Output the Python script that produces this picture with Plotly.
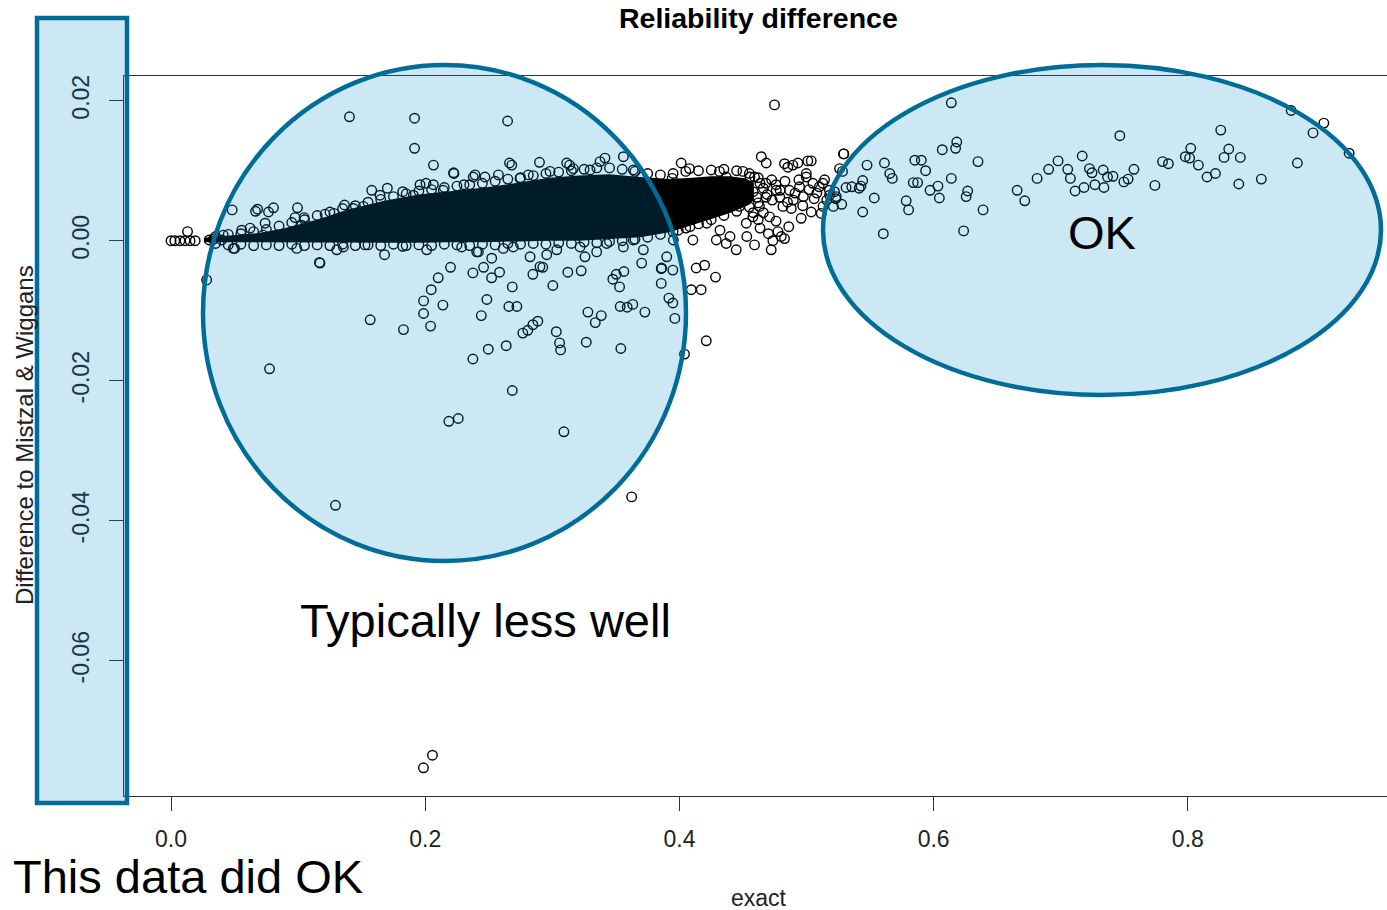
import plotly.graph_objects as go

# ---------------- data ----------------
# dense central band: envelope of the overlapping points
band_exact = [0.026, 0.046, 0.070, 0.090, 0.117, 0.140, 0.168, 0.195, 0.219, 0.247,
              0.274, 0.298, 0.321, 0.345, 0.369, 0.392, 0.410, 0.425, 0.440, 0.452, 0.458]
band_upper = [0.0003, 0.0006, 0.0010, 0.0017, 0.0030, 0.0044, 0.0056, 0.0065, 0.0070, 0.0075,
              0.0082, 0.0089, 0.0092, 0.0094, 0.0090, 0.0087, 0.0089, 0.0091, 0.0091, 0.0088, 0.0082]
band_lower = [-0.0001, -0.0002, -0.0002, -0.0002, -0.0002, -0.0002, -0.0002, -0.0002, -0.0001, -0.0001,
              0.0000, 0.0001, 0.0001, 0.0003, 0.0006, 0.0013, 0.0023, 0.0032, 0.0041, 0.0050, 0.0058]

start_exact = [0.000, 0.003, 0.007, 0.011, 0.013, 0.015, 0.019, 0.030]
start_diff = [0.0000, 0.0000, 0.0000, 0.0000, 0.0013, 0.0000, 0.0000, 0.0001]

edge_top_exact = [0.035, 0.045, 0.055, 0.065, 0.075, 0.085, 0.095, 0.105, 0.115, 0.125,
                  0.135, 0.145, 0.155, 0.165, 0.175, 0.185, 0.195, 0.205, 0.215, 0.225,
                  0.235, 0.245, 0.255, 0.265, 0.275, 0.285, 0.295, 0.305, 0.315, 0.325,
                  0.335, 0.345, 0.355, 0.365, 0.375, 0.385, 0.395, 0.405, 0.415, 0.425,
                  0.435, 0.445, 0.455, 0.462, 0.468]
edge_top_diff = [0.0006, 0.0009, 0.0010, 0.0013, 0.0016, 0.0021, 0.0026, 0.0030, 0.0036, 0.0041,
                 0.0046, 0.0050, 0.0055, 0.0059, 0.0063, 0.0067, 0.0071, 0.0073, 0.0076, 0.0078,
                 0.0080, 0.0082, 0.0085, 0.0088, 0.0090, 0.0093, 0.0096, 0.0098, 0.0100, 0.0102,
                 0.0104, 0.0104, 0.0102, 0.0099, 0.0096, 0.0094, 0.0096, 0.0099, 0.0100, 0.0101,
                 0.0102, 0.0100, 0.0096, 0.0090, 0.0082]

edge_bot_exact = [0.035, 0.045, 0.055, 0.065, 0.075, 0.085, 0.095, 0.105, 0.115, 0.125,
                  0.135, 0.145, 0.155, 0.165, 0.175, 0.185, 0.195, 0.205, 0.215, 0.225,
                  0.235, 0.245, 0.255, 0.265, 0.275, 0.285, 0.295, 0.305, 0.315, 0.325,
                  0.335, 0.345, 0.355, 0.365, 0.375, 0.385, 0.395, 0.405, 0.415, 0.425,
                  0.435, 0.445, 0.455, 0.462, 0.468]
edge_bot_diff = [-0.0004, -0.0006, -0.0005, -0.0007, -0.0006, -0.0007, -0.0005, -0.0007, -0.0006, -0.0007,
                 -0.0005, -0.0007, -0.0006, -0.0007, -0.0005, -0.0007, -0.0006, -0.0007, -0.0005, -0.0006,
                 -0.0007, -0.0005, -0.0006, -0.0004, -0.0005, -0.0004, -0.0005, -0.0003, -0.0004, -0.0002,
                 -0.0003, -0.0001, 0.0000, 0.0002, 0.0005, 0.0009, 0.0013, 0.0018, 0.0024, 0.0030,
                 0.0036, 0.0042, 0.0048, 0.0054, 0.0062]

upper_exact = [0.0333, 0.0399, 0.0411, 0.0481, 0.0556, 0.0622, 0.0665, 0.0681, 0.0726, 0.0740,
               0.0767, 0.0806, 0.0976, 0.0995, 0.1028, 0.1047, 0.1212, 0.1282, 0.1365, 0.1434,
               0.1513, 0.1579, 0.1644, 0.1702, 0.1823, 0.1907, 0.1959, 0.2006, 0.2064, 0.2142,
               0.2226, 0.2305, 0.2378, 0.2392, 0.2470, 0.2576, 0.2681, 0.2746, 0.2811, 0.2899,
               0.2982, 0.3113, 0.3136, 0.3165, 0.3297, 0.3375, 0.3414, 0.3559, 0.3637, 0.3703,
               0.3943, 0.4014, 0.4079, 0.4315, 0.4368, 0.4499, 0.4591, 0.4644, 0.4683, 0.4748,
               0.4827, 0.4853, 0.4892, 0.4932, 0.4998, 0.5010, 0.5037, 0.5050, 0.5128, 0.5142,
               0.5181, 0.5260, 0.5294,
               0.1404, 0.1916, 0.2648, 0.1916, 0.2065, 0.2663, 0.2223]
upper_diff = [0.0002, 0.0001, 0.0008, 0.0044, 0.0015, 0.0018, 0.0042, 0.0045, 0.0008, 0.0025,
              0.0041, 0.0047, 0.0033, 0.0047, 0.0022, 0.0033, 0.0038, 0.0039, 0.0051, 0.0046,
              0.0049, 0.0072, 0.0065, 0.0075, 0.0070, 0.0065, 0.0080, 0.0082, 0.0080, 0.0072,
              0.0096, 0.0080, 0.0091, 0.0094, 0.0091, 0.0094, 0.0108, 0.0089, 0.0094, 0.0112,
              0.0099, 0.0111, 0.0108, 0.0103, 0.0101, 0.0113, 0.0118, 0.0120, 0.0101, 0.0091,
              0.0089, 0.0111, 0.0103, 0.0099, 0.0091, 0.0099, 0.0091, 0.0120, 0.0111, 0.0194,
              0.0110, 0.0105, 0.0108, 0.0111, 0.0096, 0.0114, 0.0114, 0.0082, 0.0082, 0.0087,
              0.0065, 0.0103, 0.0124,
              0.0177, 0.0175, 0.0171, 0.0132, 0.0108, 0.0111, 0.0097]

lower_exact = [0.0490, 0.0500, 0.0989, 0.1172, 0.1304, 0.1356, 0.1526, 0.1680, 0.1823, 0.2012,
               0.2287, 0.2405, 0.2418, 0.2523, 0.2614, 0.2693, 0.2825, 0.2903, 0.2956, 0.3035,
               0.3218, 0.3257, 0.3349, 0.3428, 0.3559, 0.3637, 0.3716, 0.3703, 0.3860, 0.3900,
               0.3952, 0.3991, 0.4083, 0.4106, 0.4215, 0.4290, 0.4319, 0.4368, 0.4398, 0.4447,
               0.4530, 0.4591, 0.4634, 0.4722, 0.4735, 0.4775, 0.4801, 0.4827]
lower_diff = [-0.0011, -0.0011, -0.0011, -0.0032, -0.0013, -0.0009, -0.0006, -0.0020, -0.0008, -0.0013,
              -0.0009, -0.0016, -0.0016, -0.0025, -0.0011, -0.0009, -0.0023, -0.0037, -0.0020, -0.0013,
              -0.0009, -0.0023, -0.0016, -0.0004, -0.0009, 0.0001, -0.0013, -0.0032, -0.0039, -0.0023,
              0.0001, 0.0015, 0.0020, 0.0001, 0.0025, 0.0001, 0.0015, -0.0004, 0.0006, -0.0013,
              0.0006, -0.0006, 0.0018, -0.0013, 0.0000, 0.0013, 0.0006, 0.0003]

tail_exact = [0.4473, 0.4526, 0.4526, 0.4578, 0.4630, 0.4709, 0.4814, 0.4762, 0.4866, 0.4945,
              0.4998, 0.4880, 0.4958, 0.5037, 0.5116, 0.4555, 0.4634, 0.4726, 0.4792, 0.4896,
              0.4975, 0.5081, 0.5159, 0.5211,
              0.458, 0.461, 0.466, 0.469, 0.473, 0.476, 0.479, 0.483, 0.485, 0.491,
              0.494, 0.497, 0.502, 0.506, 0.510, 0.513, 0.518, 0.523, 0.466, 0.476,
              0.486, 0.470, 0.458, 0.462]
tail_diff = [0.0049, 0.0058, 0.0025, 0.0034, 0.0049, 0.0034, 0.0049, 0.0072, 0.0072, 0.0077,
             0.0091, 0.0046, 0.0032, 0.0041, 0.0039, 0.0091, 0.0082, 0.0087, 0.0072, 0.0058,
             0.0063, 0.0068, 0.0058, 0.0049,
             0.0070, 0.0062, 0.0075, 0.0066, 0.0058, 0.0080, 0.0062, 0.0085, 0.0055, 0.0068,
             0.0087, 0.0050, 0.0073, 0.0060, 0.0077, 0.0049, 0.0072, 0.0060, 0.0040, 0.0028,
             0.0020, 0.0010, 0.0040, 0.0030]

outlier_exact = [0.0280, 0.0775, 0.1294, 0.1168, 0.1567, 0.1829, 0.1987, 0.2042, 0.1987, 0.2047,
                 0.2102, 0.2199, 0.2139, 0.2375, 0.2459, 0.2522, 0.2585, 0.2485, 0.2441, 0.2375,
                 0.2496, 0.2637, 0.2685, 0.2658, 0.2721, 0.2685, 0.2186, 0.2260, 0.2847, 0.2925,
                 0.3004, 0.3122, 0.3227, 0.2886, 0.2847, 0.2807, 0.2768, 0.3031, 0.3057, 0.3065,
                 0.3091, 0.3280, 0.3338, 0.3385, 0.3267, 0.3476, 0.3503, 0.3563, 0.3529, 0.3534,
                 0.3589, 0.3633, 0.3728, 0.3539, 0.3857, 0.3857, 0.3917, 0.3948, 0.3964, 0.3948,
                 0.4040, 0.4211, 0.4093, 0.4171, 0.4132, 0.4198, 0.4284, 0.3624, 0.1986, 0.2057]
outlier_diff = [-0.0056, -0.0183, -0.0378, -0.0031, -0.0113, -0.0127, -0.0104, -0.0122, -0.0086, -0.0070,
                -0.0053, -0.0038, -0.0092, -0.0046, -0.0038, -0.0053, -0.0045, -0.0084, -0.0107, -0.0169,
                -0.0155, -0.0150, -0.0066, -0.0094, -0.0094, -0.0214, -0.0258, -0.0254, -0.0048, -0.0038,
                -0.0064, -0.0045, -0.0043, -0.0115, -0.0120, -0.0128, -0.0132, -0.0130, -0.0146, -0.0156,
                -0.0273, -0.0102, -0.0117, -0.0107, -0.0145, -0.0055, -0.0048, -0.0044, -0.0066, -0.0094,
                -0.0095, -0.0091, -0.0102, -0.0154, -0.0040, -0.0061, -0.0082, -0.0089, -0.0111, -0.0042,
                -0.0162, -0.0143, -0.0070, -0.0070, -0.0039, -0.0035, -0.0052, -0.0366, -0.0753, -0.0735]

high_exact = [0.6139, 0.6182, 0.6173, 0.6068, 0.6349, 0.6139, 0.6268, 0.6256, 0.6389, 0.6236,
              0.5937, 0.5852, 0.5903, 0.5840, 0.5874, 0.6034, 0.5972, 0.6045, 0.5784, 0.5803,
              0.5613, 0.5655, 0.5675, 0.5533, 0.5604, 0.5442, 0.5476, 0.5442, 0.5414, 0.5428,
              0.5356, 0.5311, 0.5277, 0.5234, 0.5220, 0.5291, 0.5283, 0.6657, 0.6717, 0.6814,
              0.6905, 0.6979, 0.7055, 0.7076, 0.7113, 0.7183, 0.7169, 0.7226, 0.7246, 0.7269,
              0.7340, 0.7334, 0.7368, 0.7411, 0.7465, 0.7497, 0.7530, 0.7576, 0.7741, 0.7801,
              0.7847, 0.7980, 0.8014, 0.8023, 0.8083, 0.8151, 0.8217, 0.8259, 0.8322, 0.8285,
              0.8413, 0.8401, 0.8578, 0.8813, 0.8862, 0.8985, 0.9070, 0.9269]
high_diff = [0.0197, 0.0141, 0.0132, 0.0130, 0.0113, 0.0089, 0.0071, 0.0063, 0.0044, 0.0014,
             0.0100, 0.0115, 0.0115, 0.0083, 0.0083, 0.0078, 0.0072, 0.0061, 0.0057, 0.0044,
             0.0111, 0.0096, 0.0089, 0.0061, 0.0010, 0.0041, 0.0108, 0.0086, 0.0075, 0.0078,
             0.0077, 0.0076, 0.0052, 0.0063, 0.0070, 0.0124, 0.0099, 0.0072, 0.0057, 0.0089,
             0.0102, 0.0114, 0.0102, 0.0089, 0.0071, 0.0076, 0.0121, 0.0103, 0.0097, 0.0080,
             0.0076, 0.0101, 0.0091, 0.0092, 0.0150, 0.0084, 0.0088, 0.0102, 0.0079, 0.0113,
             0.0110, 0.0120, 0.0118, 0.0132, 0.0108, 0.0091, 0.0096, 0.0158, 0.0131, 0.0119,
             0.0119, 0.0081, 0.0088, 0.0186, 0.0111, 0.0154, 0.0168, 0.0125]

x_tick_vals = [0.0, 0.2, 0.4, 0.6, 0.8]
x_tick_text = ["0.0", "0.2", "0.4", "0.6", "0.8"]
y_tick_vals = [0.02, 0.0, -0.02, -0.04, -0.06]
y_tick_text = ["0.02", "0.00", "-0.02", "-0.04", "-0.06"]

title_text = "Reliability difference"
x_title = "exact"
y_title = "Difference to Mistzal & Wiggans"
note_left = "Typically less well"
note_right = "OK"
note_bottom = "This data did OK"

# ---------------- figure ----------------
FONT = "Liberation Sans, Arial, sans-serif"
W, H = 1387, 910
ML, MR, MT, MB = 124, 0, 76, 114
PW, PH = W - ML - MR, H - MT - MB


def px(xp):
    return (xp - ML) / PW


def py(yp):
    return (H - MB - yp) / PH


fig = go.Figure()

fig.add_trace(go.Scatter(
    x=band_exact + band_exact[::-1],
    y=band_upper + band_lower[::-1],
    mode="lines", fill="toself", fillcolor="black",
    line=dict(color="black", width=1.5), hoverinfo="skip"))

pts_x = (start_exact + edge_top_exact + edge_bot_exact + upper_exact + lower_exact
         + tail_exact + outlier_exact + high_exact)
pts_y = (start_diff + edge_top_diff + edge_bot_diff + upper_diff + lower_diff
         + tail_diff + outlier_diff + high_diff)
fig.add_trace(go.Scatter(
    x=pts_x, y=pts_y, mode="markers",
    marker=dict(symbol="circle-open", size=9.5, color="black", line=dict(width=1.4, color="black")),
    hoverinfo="skip"))

fill = "rgba(0,140,200,0.2)"
edge = dict(color="#006D98", width=4.5)
shapes = [
    dict(type="circle", xref="paper", yref="paper", x0=px(203), x1=px(686), y0=py(561), y1=py(65),
         fillcolor=fill, line=edge, layer="above"),
    dict(type="circle", xref="paper", yref="paper", x0=px(823), x1=px(1381), y0=py(395), y1=py(65),
         fillcolor=fill, line=edge, layer="above"),
    dict(type="rect", xref="paper", yref="paper", x0=px(37), x1=px(127), y0=py(803), y1=py(18),
         fillcolor=fill, line=edge, layer="above"),
]

annotations = [
    dict(text=title_text, x=px(758), y=py(18), xref="paper", yref="paper", showarrow=False,
         xanchor="center", yanchor="middle", font=dict(family=FONT, size=28.5, color="black", weight="bold")),
    dict(text=x_title, x=px(759), y=py(898), xref="paper", yref="paper", showarrow=False,
         xanchor="center", yanchor="middle", font=dict(family=FONT, size=23, color="#222")),
    dict(text=y_title, x=px(24), y=py(435), xref="paper", yref="paper", showarrow=False, textangle=-90,
         xanchor="center", yanchor="middle", font=dict(family=FONT, size=24, color="#222")),
    dict(text=note_left, x=px(486), y=py(620), xref="paper", yref="paper", showarrow=False,
         xanchor="center", yanchor="middle", font=dict(family=FONT, size=47, color="black")),
    dict(text=note_right, x=px(1102), y=py(232), xref="paper", yref="paper", showarrow=False,
         xanchor="center", yanchor="middle", font=dict(family=FONT, size=47, color="black")),
    dict(text=note_bottom, x=px(11), y=py(876), xref="paper", yref="paper", showarrow=False,
         xanchor="left", yanchor="middle", font=dict(family=FONT, size=47, color="black")),
]

fig.update_layout(
    width=W, height=H, autosize=False,
    margin=dict(l=ML, r=MR, t=MT, b=MB, pad=0),
    paper_bgcolor="white", plot_bgcolor="white",
    showlegend=False, hovermode=False,
    shapes=shapes, annotations=annotations,
    xaxis=dict(range=[-0.0370, 0.9567], showgrid=False, zeroline=False,
               showline=True, mirror=True, linecolor="#333", linewidth=1.3,
               ticks="outside", ticklen=14, tickwidth=1.3, tickcolor="#333",
               tickmode="array", tickvals=x_tick_vals, ticktext=x_tick_text,
               tickfont=dict(family=FONT, size=23, color="#222"), ticklabelstandoff=8),
    yaxis=dict(range=[-0.07933, 0.02353], showgrid=False, zeroline=False,
               showline=True, mirror=False, linecolor="#333", linewidth=1.3,
               ticks="outside", ticklen=14, tickwidth=1.3, tickcolor="#333",
               tickmode="array", tickvals=y_tick_vals, ticktext=y_tick_text, tickangle=-90,
               tickfont=dict(family=FONT, size=23, color="#222"), ticklabelstandoff=11),
)

fig.write_html("out.html")
